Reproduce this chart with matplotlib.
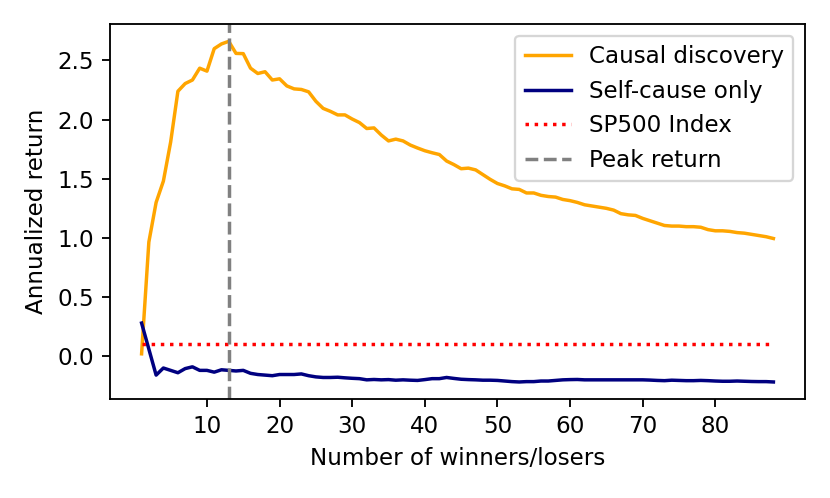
import matplotlib
matplotlib.use("Agg")
import matplotlib.pyplot as plt
import numpy as np

n_stocks = list(range(1, 89))

causal_discovery = [
    0.02, 0.965, 1.30, 1.48, 1.81, 2.24, 2.305, 2.335, 2.435, 2.41,
    2.60, 2.64, 2.662, 2.56, 2.558, 2.435, 2.39, 2.405, 2.335, 2.345,
    2.285, 2.26, 2.255, 2.235, 2.155, 2.095, 2.07, 2.04, 2.04, 2.005,
    1.975, 1.925, 1.93, 1.87, 1.82, 1.835, 1.82, 1.785, 1.76, 1.737,
    1.72, 1.705, 1.65, 1.62, 1.585, 1.59, 1.575, 1.535, 1.495, 1.46,
    1.44, 1.415, 1.41, 1.38, 1.38, 1.36, 1.35, 1.345, 1.325, 1.315,
    1.30, 1.28, 1.27, 1.26, 1.25, 1.235, 1.205, 1.195, 1.19, 1.165,
    1.145, 1.125, 1.105, 1.10, 1.10, 1.095, 1.095, 1.09, 1.07, 1.06,
    1.06, 1.055, 1.045, 1.04, 1.03, 1.02, 1.01, 0.995,
]

self_cause_only = [
    0.28, 0.06, -0.16, -0.10, -0.12, -0.14, -0.105, -0.09, -0.12, -0.12,
    -0.135, -0.115, -0.12, -0.125, -0.12, -0.145, -0.155, -0.16, -0.165, -0.155,
    -0.155, -0.155, -0.15, -0.165, -0.175, -0.18, -0.18, -0.178, -0.183, -0.187,
    -0.19, -0.20, -0.197, -0.20, -0.198, -0.203, -0.20, -0.203, -0.205, -0.198,
    -0.19, -0.19, -0.18, -0.188, -0.195, -0.198, -0.20, -0.203, -0.203, -0.205,
    -0.21, -0.215, -0.218, -0.215, -0.215, -0.21, -0.21, -0.205, -0.20, -0.198,
    -0.197, -0.20, -0.20, -0.20, -0.20, -0.20, -0.20, -0.20, -0.20, -0.20,
    -0.202, -0.205, -0.207, -0.203, -0.205, -0.207, -0.207, -0.205, -0.207, -0.21,
    -0.212, -0.212, -0.21, -0.212, -0.214, -0.215, -0.215, -0.218,
]

sp500_return = 0.107
peak_x = 13

fig = plt.figure(figsize=(5.0, 3.0), dpi=166)
ax = fig.add_axes([110 / 830, 1 - 399 / 498, (805 - 110) / 830, (399 - 24.3) / 498])

ax.plot(n_stocks, causal_discovery, color="orange", label="Causal discovery")
ax.plot(n_stocks, self_cause_only, color="navy", label="Self-cause only")
ax.plot(n_stocks, [sp500_return] * len(n_stocks), color="red", linestyle=":", label="SP500 Index")
ax.axvline(peak_x, color="gray", linestyle="--", label="Peak return")

ax.set_xticks([10, 20, 30, 40, 50, 60, 70, 80])
ax.set_yticks([0.0, 0.5, 1.0, 1.5, 2.0, 2.5])
ax.set_xlabel("Number of winners/losers")
ax.set_ylabel("Annualized return")
ax.legend(loc="upper right")

fig.savefig("out.png", dpi=166)
